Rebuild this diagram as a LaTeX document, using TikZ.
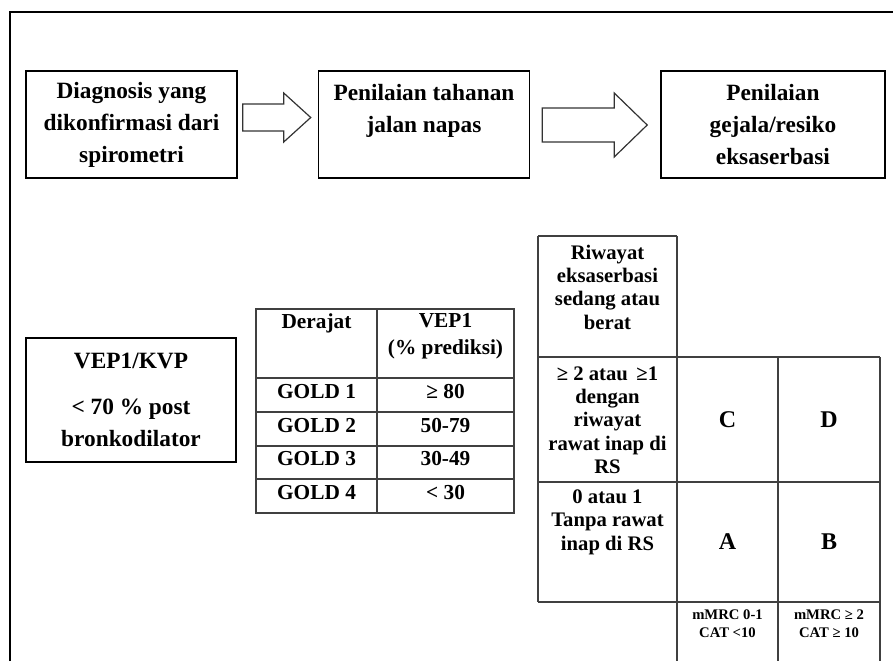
\documentclass[tikz,border=0pt]{standalone}
\usepackage{fontspec}
\setmainfont{Liberation Serif}
\usetikzlibrary{positioning,calc}

\tikzset{
  stepbox/.style={draw=black, line width=1.1pt, minimum width=158.25pt, minimum height=80.25pt,
    inner sep=0pt, align=center, font=\bfseries\fontsize{17.5}{24}\selectfont},
  blockarrow/.style={draw=black!80, line width=0.9pt, fill=white, line join=miter},
  tabline/.style={draw=black!75, line width=1.6pt},
  celltext/.style={align=center, inner sep=0pt, font=\bfseries\fontsize{16}{20}\selectfont},
  gridtext/.style={align=center, inner sep=0pt, font=\bfseries\fontsize{15.5}{17.5}\selectfont},
  bigletter/.style={inner sep=0pt, font=\bfseries\fontsize{18}{20}\selectfont},
  smalltext/.style={align=center, inner sep=0pt, font=\bfseries\fontsize{11}{13.5}\selectfont}
}

\begin{document}
\begin{tikzpicture}[x=0.75pt, y=-0.75pt]
  \useasboundingbox (0,0) rectangle (893,661);
  \draw[line width=2pt] (10,661) -- (10,12) -- (893,12);

  % top row
  \node[stepbox] (diag) at (131.5,124.5) {Diagnosis yang\\dikonfirmasi dari\\spirometri};
  \node[stepbox, right=60pt of diag] (tahanan) {Penilaian tahanan\\jalan napas\\~};
  \node[stepbox, minimum width=168pt, right=97.5pt of tahanan] (gejala) {Penilaian\\gejala/resiko\\eksaserbasi};
  \draw[blockarrow] ($(diag.east)+(5,-20.5)$) -- ++(41,0) -- ++(0,-11) -- ++(27,24.5)
    -- ++(-27,24.5) -- ++(0,-11) -- ++(-41,0) -- cycle;
  \draw[blockarrow] ($(tahanan.east)+(12,-16.5)$) -- ++(72,0) -- ++(0,-15) -- ++(33,32)
    -- ++(-33,32) -- ++(0,-15) -- ++(-72,0) -- cycle;

  % spirometri
  \node[draw=black, line width=1.1pt, minimum width=157.5pt, minimum height=93pt, inner sep=0pt,
    align=center, font=\bfseries\fontsize{17.5}{24}\selectfont] (kvp) at (131,400)
    {VEP1/KVP\\[11pt]< 70 \% post\\bronkodilator};

  % GOLD table
  \draw[tabline] (256,309) rectangle (514,513);
  \draw[tabline] (377,309) -- (377,513);
  \foreach \y in {378,412,446,479}
    \draw[tabline] (256,\y) -- (514,\y);
  \node[celltext] (derajat) at (316.5,323) {Derajat};
  \node[celltext] (vep) at (445.5,336.5) {VEP1\\(\% prediksi)};
  \foreach \g/\v/\y in {1/{≥ 80}/392, 2/{50-79}/426, 3/{30-49}/459, 4/{< 30}/493}
  { \node[celltext] (gold\g) at (316.5,\y) {GOLD \g};
    \node[celltext] (val\g) at (445.5,\y) {\v}; }

  % ABCD grid
  \draw[tabline] (538,236) -- (677,236);
  \draw[tabline] (538,236) -- (538,602);
  \draw[tabline] (677,236) -- (677,661);
  \foreach \x in {778,880}
    \draw[tabline] (\x,357) -- (\x,661);
  \foreach \y in {357,482,602}
    \draw[tabline] (538,\y) -- (880,\y);
  \node[gridtext] (riwayat) at (607.5,287) {Riwayat\\eksaserbasi\\sedang atau\\berat};
  \node[gridtext] (berat) at (607.5,420) {≥ 2 atau\, ≥1\\dengan\\riwayat\\rawat inap di\\RS};
  \node[gridtext] (ringan) at (607.5,522) {0 atau 1\\Tanpa rawat\\inap di RS};
  \node[bigletter] (C) at (727.5,420) {C};
  \node[bigletter] (D) at (829,420) {D};
  \node[bigletter] (A) at (727.5,542) {A};
  \node[bigletter] (B) at (829,542) {B};
  \node[smalltext] (gejala1) at (727.5,624) {mMRC 0-1\\CAT <10};
  \node[smalltext] (gejala2) at (829,624) {mMRC ≥ 2\\CAT ≥ 10};
\end{tikzpicture}
\end{document}
